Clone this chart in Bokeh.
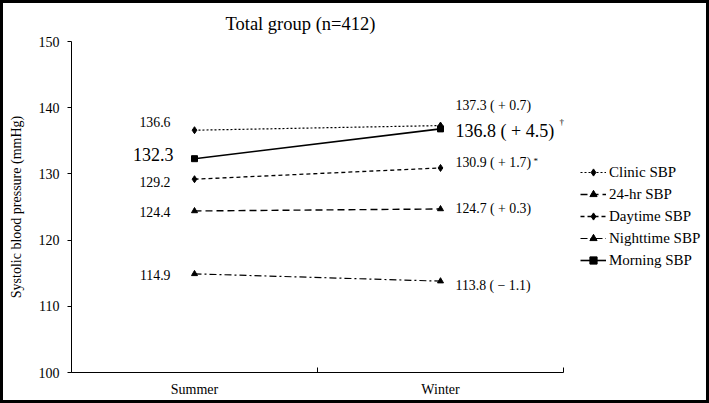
from bokeh.plotting import figure
from bokeh.models import ColumnDataSource, FixedTicker, Legend, LegendItem, Range1d
from bokeh.core.properties import value
from bokeh.embed import file_html
from bokeh.resources import INLINE

# ---------------- data ----------------
seasons = ["Summer", "Winter"]
series_names = ["Clinic SBP", "24-hr SBP", "Daytime SBP", "Nighttime SBP", "Morning SBP"]
clinic_sbp = [136.6, 137.3]
hr24_sbp = [124.4, 124.7]
daytime_sbp = [129.2, 130.9]
nighttime_sbp = [114.9, 113.8]
morning_sbp = [132.3, 136.8]
summer_labels = ["136.6", "124.4", "129.2", "114.9", "132.3"]
winter_labels = ["137.3 ( + 0.7)", "124.7 ( + 0.3)", "130.9 ( + 1.7)", "113.8 ( \u2212 1.1)", "136.8 ( + 4.5)"]
winter_marks = ["", "", "*", "", "\u2020"]
y_ticks = [100, 110, 120, 130, 140, 150]
title_text = "Total group (n=412)"
y_title = "Systolic blood pressure (mmHg)"

series_values = [clinic_sbp, hr24_sbp, daytime_sbp, nighttime_sbp, morning_sbp]

# ---------------- styles / layout ----------------
FONT = "Liberation Serif"
dashes = ["2 2", "7 4", "4 3", "7 3 2 3", "solid"]
markers = ["diamond", "triangle", "diamond", "triangle", "square"]
marker_sizes = [7, 6, 7, 6, 6]
line_widths = [1.2, 1.4, 1.3, 1.2, 1.6]
label_sizes = ["13.8px", "13.8px", "13.8px", "13.8px", "18px"]
left_dx = [-24, -24, -24, -24, -21]
left_dy = [-8, 1, 3, 1, -4]
right_dy = [-20, 0, -5, 4, 2]
mark_dx = [0, 0, 78, 0, 104]
mark_dy = [0, 0, -7, 0, -7]

W, H = 709, 403
BORDER_L, BORDER_R, BORDER_T, BORDER_B = 68, 6, 38, 34
AXIS_W = 492                      # pixel length of the category axis
FRAME_W = W - BORDER_L - BORDER_R

n = len(seasons)
x_pos = [i + 0.5 for i in range(n)]

p = figure(width=W, height=H, x_range=Range1d(0, n * FRAME_W / AXIS_W), y_range=Range1d(100, 150),
           output_backend="svg", toolbar_location=None,
           min_border_left=BORDER_L, min_border_right=BORDER_R,
           min_border_top=BORDER_T, min_border_bottom=BORDER_B)
p.styles = {"border": "3px solid black"}
p.background_fill_color = "white"
p.border_fill_color = "white"
p.outline_line_color = None
p.xgrid.visible = False
p.ygrid.visible = False

p.title.text = title_text
p.title.align = "left"
p.title.offset = 154
p.title.text_font = FONT
p.title.text_font_size = "18.5px"
p.title.text_font_style = "normal"
p.title.text_color = "black"
p.title.vertical_align = "middle"
p.title.standoff = 13

# y axis
ya = p.yaxis[0]
ya.ticker = FixedTicker(ticks=y_ticks)
ya.major_tick_out = 4
ya.major_tick_in = 0
ya.minor_tick_out = 0
ya.minor_tick_in = 0
ya.major_label_standoff = 8
ya.major_label_text_font = FONT
ya.major_label_text_font_size = "14px"
ya.major_label_text_color = "black"
ya.axis_label = y_title
ya.axis_label_text_font = FONT
ya.axis_label_text_font_size = "14px"
ya.axis_label_text_font_style = "normal"
ya.axis_label_text_color = "black"
ya.axis_label_standoff = 12
ya.axis_line_color = "black"
ya.major_tick_line_color = "black"

# x axis (line only across the two categories)
xa = p.xaxis[0]
xa.bounds = (0, n)
xa.ticker = FixedTicker(ticks=x_pos, minor_ticks=list(range(n + 1)))
xa.major_label_overrides = {x: s for x, s in zip(x_pos, seasons)}
xa.major_tick_in = 0
xa.major_tick_out = 0
xa.minor_tick_in = 5
xa.minor_tick_out = 0
xa.minor_tick_line_color = "black"
xa.major_label_standoff = 9
xa.major_label_text_font = FONT
xa.major_label_text_font_size = "14px"
xa.major_label_text_color = "black"
xa.axis_line_color = "black"

items = []
for i, name in enumerate(series_names):
    vals = series_values[i]
    src = ColumnDataSource(dict(x=x_pos, y=vals))
    lr = p.line("x", "y", source=src, line_color="black", line_width=line_widths[i],
                line_dash=dashes[i])
    sr = p.scatter("x", "y", source=src, marker=markers[i], size=marker_sizes[i],
                   fill_color="black", line_color="black")
    items.append(LegendItem(label=name, renderers=[lr, sr]))

# value labels
left_src = ColumnDataSource(dict(x=[x_pos[0]] * len(series_names),
                                 y=[v[0] for v in series_values],
                                 text=summer_labels, size=label_sizes,
                                 dx=left_dx, dy=left_dy))
p.text("x", "y", text="text", source=left_src, text_align="right", text_baseline="middle",
       text_font=value(FONT), text_font_size="size", text_color="black",
       x_offset="dx", y_offset="dy")
right_src = ColumnDataSource(dict(x=[x_pos[1]] * len(series_names),
                                  y=[v[1] for v in series_values],
                                  text=winter_labels, size=label_sizes, dy=right_dy))
p.text("x", "y", text="text", source=right_src, text_align="left", text_baseline="middle",
       text_font=value(FONT), text_font_size="size", text_color="black",
       x_offset=15, y_offset="dy")
mark_src = ColumnDataSource(dict(x=[x_pos[1]] * len(series_names),
                                 y=[v[1] for v in series_values],
                                 text=winter_marks, dx=[15 + d for d in mark_dx], dy=mark_dy))
p.text("x", "y", text="text", source=mark_src, text_align="left", text_baseline="middle",
       text_font=value(FONT), text_font_size="9px", text_color="black",
       x_offset="dx", y_offset="dy")

legend = Legend(items=items, location=(509, 103))
legend.border_line_color = None
legend.background_fill_alpha = 0
legend.label_text_font = FONT
legend.label_text_font_size = "15px"
legend.label_text_color = "black"
legend.glyph_width = 26
legend.glyph_height = 18
legend.label_height = 18
legend.spacing = 4
legend.padding = 0
legend.margin = 0
legend.label_standoff = 3
p.add_layout(legend)

open("out.html", "w").write(file_html(p, INLINE))
